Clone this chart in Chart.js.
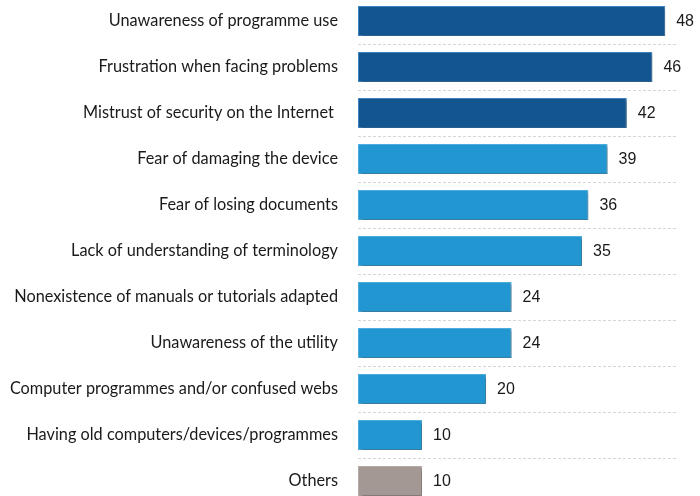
<!DOCTYPE html>
<html>
<head>
<meta charset="utf-8">
<script src="https://cdn.jsdelivr.net/npm/chart.js@4/dist/chart.umd.min.js"></script>
<style>
html,body{margin:0;padding:0;background:#fff;overflow:hidden;}
#c{position:absolute;left:0;top:-2px;}
</style>
</head>
<body>
<canvas id="c" width="700" height="506"></canvas>
<script>
const categories = [
  "Unawareness of programme use",
  "Frustration when facing problems",
  "Mistrust of security on the Internet ",
  "Fear of damaging the device",
  "Fear of losing documents",
  "Lack of understanding of terminology",
  "Nonexistence of manuals or tutorials adapted",
  "Unawareness of the utility",
  "Computer programmes and/or confused webs",
  "Having old computers/devices/programmes",
  "Others"
];
const values = [48, 46, 42, 39, 36, 35, 24, 24, 20, 10, 10];
const barColors = ["#12558F","#12558F","#12558F","#2196D0","#2196D0","#2196D0","#2196D0","#2196D0","#2196D0","#2196D0","#A39894"];
const borderColors = ["#3F86C4","#3F86C4","#3F86C4","#4FB0E0","#4FB0E0","#4FB0E0","#4FB0E0","#4FB0E0","#4FB0E0","#4FB0E0","#B8AEAA"];

const shadowPlugin = {
  id: 'shadow',
  beforeDatasetsDraw(chart){
    const ctx = chart.ctx;
    ctx.save();
    ctx.shadowColor = 'rgba(0,0,0,0.35)';
    ctx.shadowOffsetX = 2;
    ctx.shadowOffsetY = 2;
    ctx.shadowBlur = 3;
  },
  afterDatasetsDraw(chart){
    chart.ctx.restore();
    const ctx = chart.ctx;
    const meta = chart.getDatasetMeta(0);
    ctx.save();
    ctx.font = '16px "Liberation Sans", Arial, sans-serif';
    ctx.fillStyle = '#1a1a1a';
    ctx.textAlign = 'left';
    ctx.textBaseline = 'middle';
    meta.data.forEach((bar, i) => {
      ctx.fillText(String(values[i]), bar.x + 11, bar.y + 1);
    });
    ctx.restore();
  }
};

new Chart(document.getElementById('c'), {
  type: 'bar',
  data: {
    labels: categories,
    datasets: [{
      data: values,
      backgroundColor: barColors,
      borderColor: borderColors,
      borderWidth: 1,
      borderSkipped: false,
      categoryPercentage: 0.65,
      barPercentage: 1.0
    }]
  },
  options: {
    indexAxis: 'y',
    responsive: false,
    animation: false,
    devicePixelRatio: 1,
    layout: { padding: { left: 0, right: 22, top: 0, bottom: 0 } },
    plugins: { legend: { display: false }, tooltip: { enabled: false }, title: { display: false } },
    scales: {
      x: {
        min: 0, max: 50,
        display: false,
        grid: { display: false }
      },
      y: {
        afterFit(scale){ scale.width = 358; scale.paddingTop = 0; scale.paddingBottom = 0; },
        grid: {
          offset: true,
          drawTicks: false,
          color: '#d6d6d6',
          lineWidth: 1
        },
        border: { display: false, dash: [3, 2] },
        ticks: {
          padding: 20,
          color: '#1a1a1a',
          font: { family: 'Lato, "Open Sans", sans-serif', size: 16.3 }
        }
      }
    }
  },
  plugins: [shadowPlugin]
});
</script>
</body>
</html>
